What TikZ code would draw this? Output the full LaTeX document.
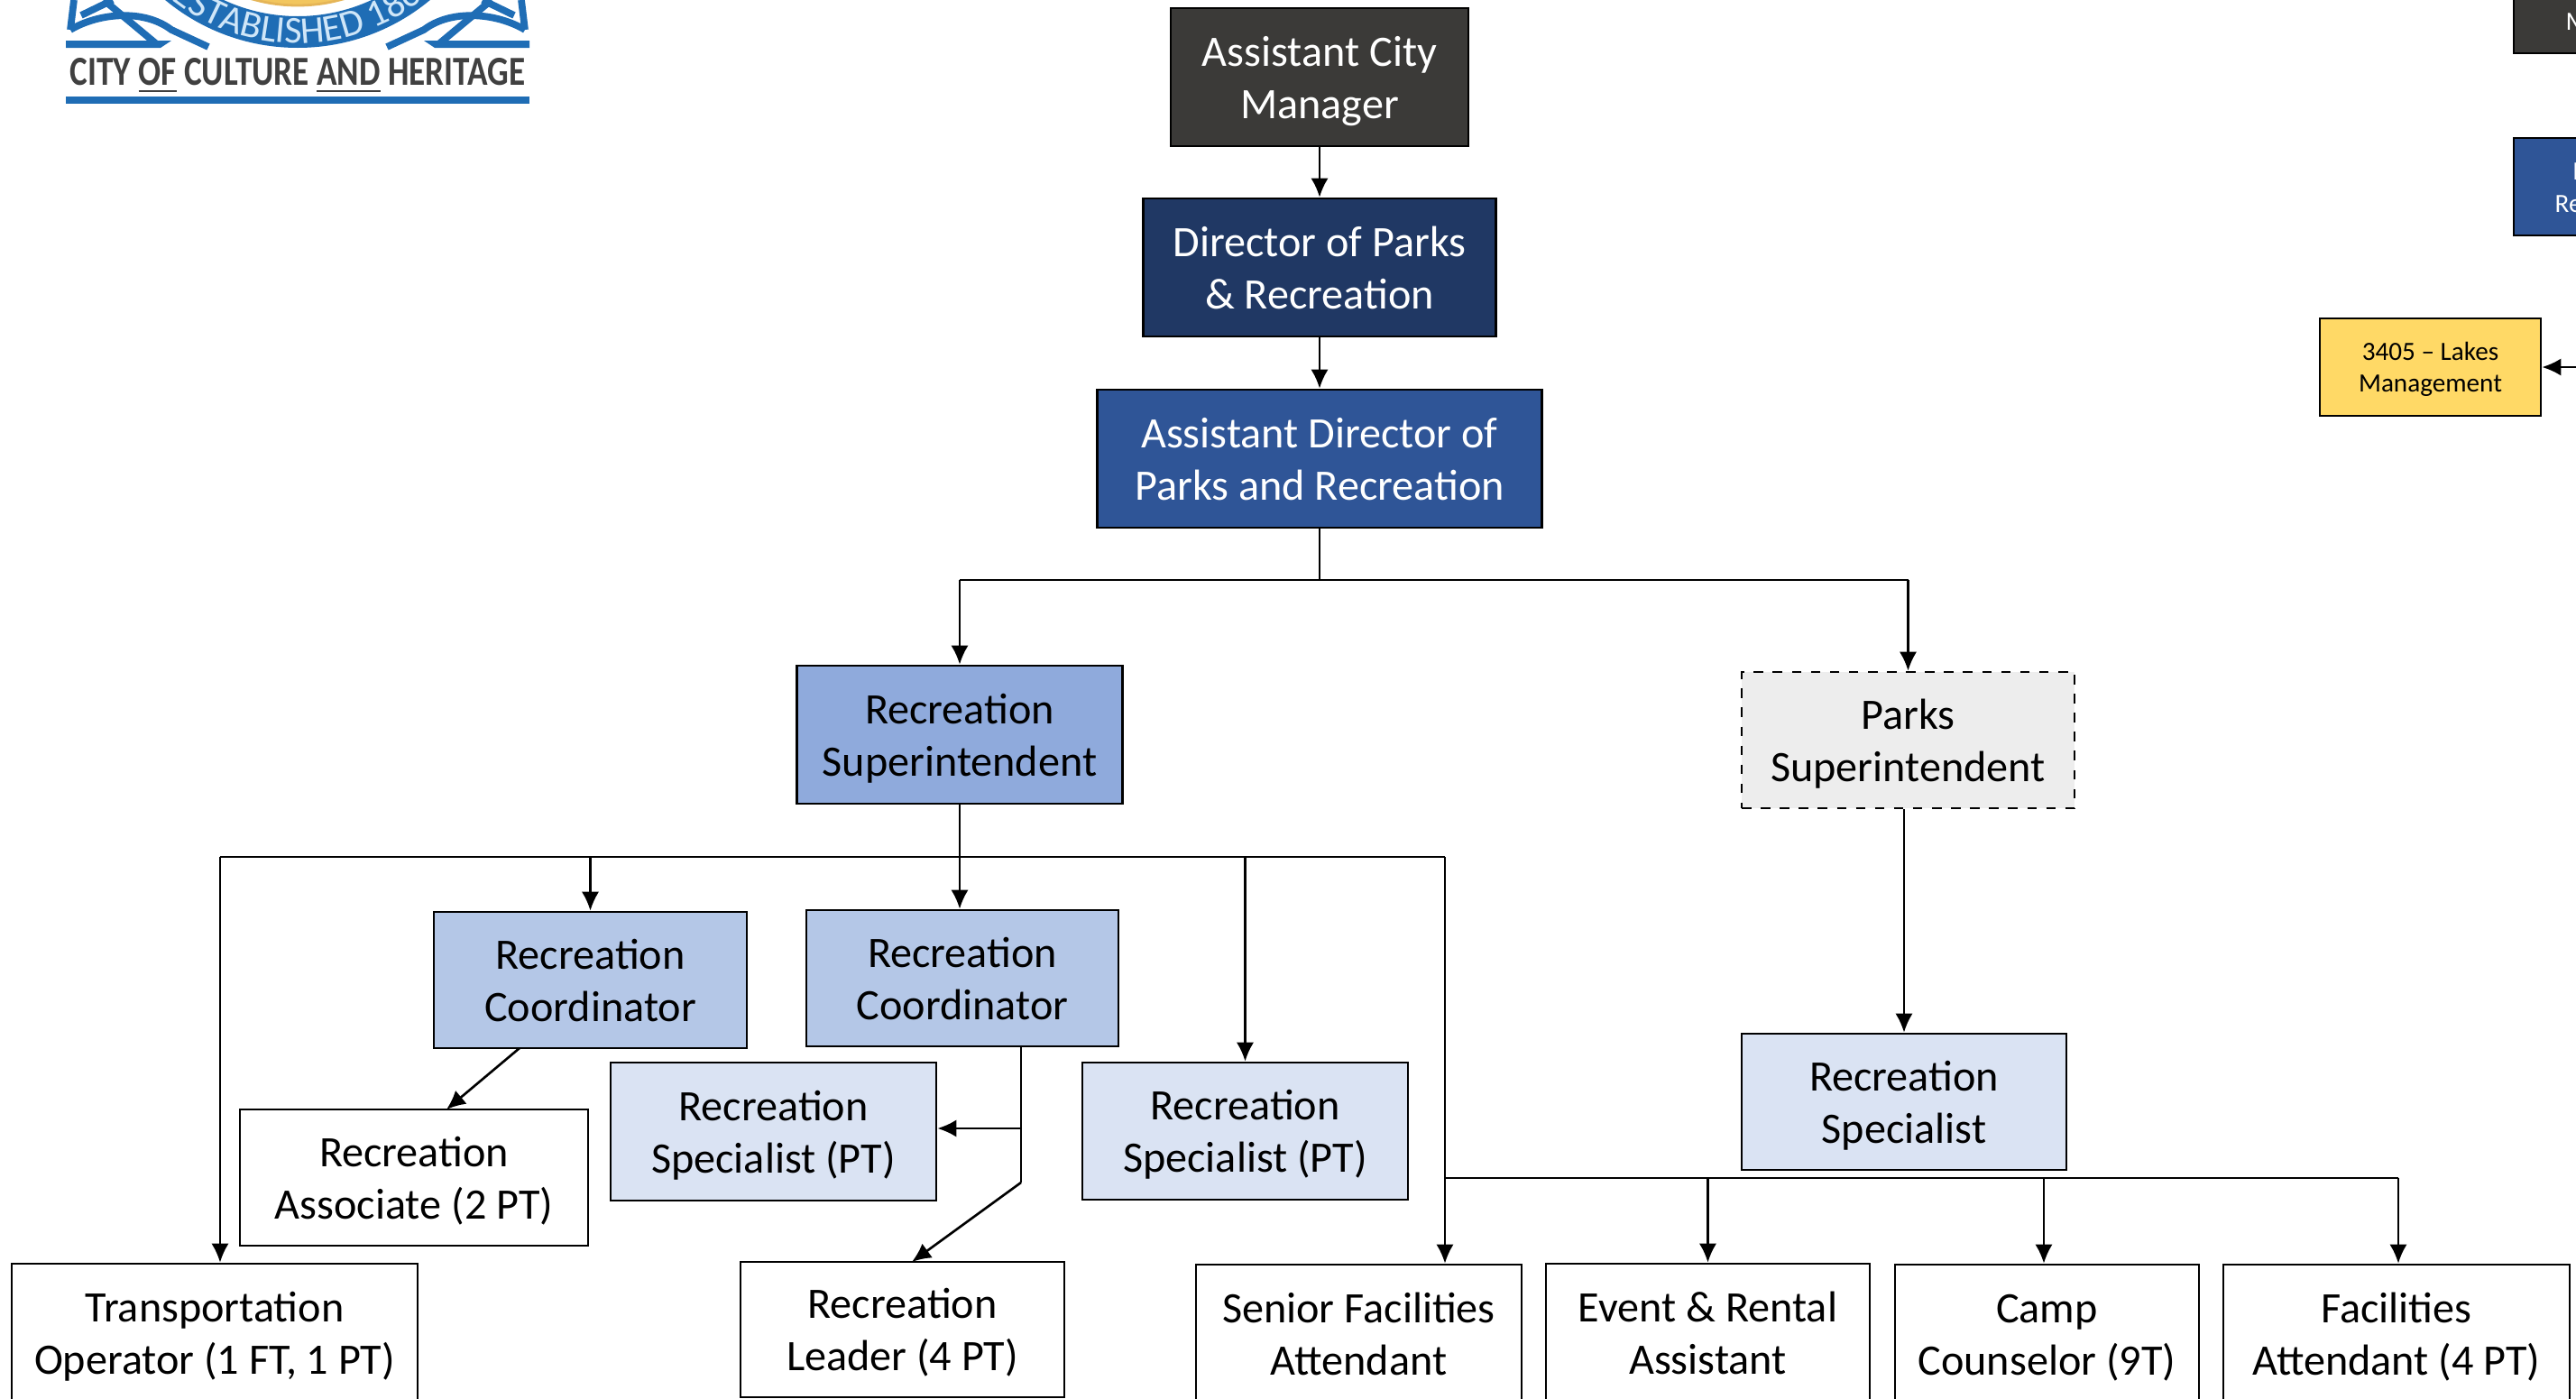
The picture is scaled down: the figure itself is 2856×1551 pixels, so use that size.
\documentclass[tikz,border=0pt]{standalone}
\usepackage{fontspec}
\setmainfont{Carlito}
\usetikzlibrary{arrows.meta,decorations.text}
\definecolor{cdark}{HTML}{3B3A38}
\definecolor{cnavy}{HTML}{203864}
\definecolor{cblue}{HTML}{2F5597}
\definecolor{cmid}{HTML}{8FAADC}
\definecolor{clight}{HTML}{B4C7E7}
\definecolor{cpale}{HTML}{DAE3F3}
\definecolor{cgrey}{HTML}{EDEDED}
\definecolor{cgold}{HTML}{FFD966}
\definecolor{clogo}{HTML}{1F6DB5}
\definecolor{clogotxt}{HTML}{CFE6F8}
\definecolor{cseal}{HTML}{F2C65E}
\def\boxtop{31.1pt}
\tikzset{
orgbox/.style 2 args={draw=black, line width=0.75pt, inner sep=0pt, align=center, minimum width=#1*0.01cm, minimum height=#2*0.01cm, font=\fontsize{13.7}{16.5}\selectfont, execute at begin node=\rule{0pt}{\boxtop}, execute at end node=\strut},
smallbox/.style={font=\fontsize{8.3}{10}\selectfont, /utils/exec=\def\boxtop{18.6pt}},
fragtext/.style={font=\fontsize{8.3}{10}\selectfont, text=white, anchor=west, inner sep=0pt},
bar/.style={draw=black, line width=0.55pt},
arr/.style={draw=black, line width=0.75pt, -{Latex[length=6pt,width=5.5pt]}},
logoline/.style={draw=clogo, line width=2.2pt},
}
\newcommand{\sealfont}{\color{clogotxt}\fontsize{12}{12}\selectfont}
\begin{document}
\begin{tikzpicture}[x=0.01cm,y=-0.01cm]
\useasboundingbox (0,0) rectangle (2856,1551);
\clip (0,0) rectangle (2856,1551);
\fill[clogo] (73,107) rectangle (587,115);
\draw[cgold!60!brown, fill=cseal, line width=0.8pt] (330,-177) circle (183);
\fill[clogo, even odd rule] (330,-177) circle (230) (330,-177) circle (195);
\path[decorate, decoration={text along path, text align=center, text={|\sealfont|ESTABLISHED 186}}] (171,-18) .. controls (259,70) and (401,70) .. (489,-18);
\foreach \side in {1,-1}{
\begin{scope}[shift={(330,0)}, xscale=\side]
\fill[clogo] (-257,45) -- (-140,45) -- (-152,53) -- (-257,53) -- cycle;
\draw[logoline] (-252,33) -- (-248,0);
\draw[logoline] (-252,33) .. controls (-220,14) and (-170,10) .. (-140,33) -- (-99,52);
\draw[logoline] (-215,0) -- (-155,50);
\draw[logoline] (-240,17) -- (-205,0);
\end{scope}
}
\node[text=black!75] (motto0) at (330,84) {\resizebox{5.04cm}{0.3cm}{\bfseries CITY \underline{OF} CULTURE \underline{AND} HERITAGE}};
\node[orgbox={330}{153}, fill=cdark, text=white] (mgr0) at (1463,85.5) {Assistant City\\Manager};
\node[orgbox={391}{153}, fill=cnavy, text=white] (dir0) at (1463,296.5) {Director of Parks\\\& Recreation};
\node[orgbox={493}{153}, fill=cblue, text=white] (adir0) at (1463,508.5) {Assistant Director of\\Parks and Recreation};
\node[orgbox={361}{153}, fill=cmid] (sup0) at (1064,814.5) {Recreation\\Superintendent};
\node[orgbox={369}{151}, fill=cgrey, dashed] (sup1) at (2115.5,820.5) {Parks\\Superintendent};
\node[orgbox={347}{151}, fill=clight] (coord0) at (654.5,1086.5) {Recreation\\Coordinator};
\node[orgbox={346}{151}, fill=clight] (coord1) at (1067,1084.5) {Recreation\\Coordinator};
\node[orgbox={361}{153}, fill=cpale] (spec0) at (857.5,1254.5) {Recreation\\Specialist (PT)};
\node[orgbox={361}{152}, fill=cpale] (spec1) at (1380.5,1254) {Recreation\\Specialist (PT)};
\node[orgbox={360}{151}, fill=cpale] (spec2) at (2111,1221.5) {Recreation\\Specialist};
\node[orgbox={386}{151}] (assoc0) at (459,1305.5) {Recreation\\Associate (2 PT)};
\node[orgbox={359}{150}] (leader0) at (1000.5,1474) {Recreation\\Leader (4 PT)};
\node[orgbox={450}{153}] (drv0) at (238,1477.5) {Transportation\\Operator (1 FT, 1 PT)};
\node[orgbox={361}{153}] (att0) at (1506.5,1478.5) {Senior Facilities\\Attendant};
\node[orgbox={359}{153}] (att1) at (1893.5,1477.5) {Event \& Rental\\Assistant};
\node[orgbox={337}{153}] (att2) at (2269.5,1478.5) {Camp\\Counselor (9T)};
\node[orgbox={384}{153}] (att3) at (2657,1478.5) {Facilities\\Attendant (4 PT)};
\node[orgbox={245}{108}, fill=cgold, smallbox] (lakes0) at (2694.5,407) {3405 -- Lakes\\Management};
\node[orgbox={286}{153}, fill=cdark, smallbox] (mgr1) at (2930,-17.5) {};
\node[orgbox={286}{108}, fill=cblue, smallbox] (dir1) at (2930,207) {};
\node[fragtext] (frag0) at (2844,24) {M};
\node[fragtext] (frag1) at (2852,190) {F};
\node[fragtext] (frag2) at (2832,226) {Re};
\coordinate (bus0) at (1463,643);
\coordinate (bus1a) at (244,950);
\coordinate (bus1b) at (1602,950);
\coordinate (bus2a) at (1602,1306);
\coordinate (bus2b) at (2266,1306);
\coordinate (bus2c) at (2659,1306);
\coordinate (out0) at (576,1162);
\coordinate (in0) at (495,1230);
\coordinate (out1) at (1132,1160);
\coordinate (mid1) at (1132,1251);
\coordinate (end1) at (1132,1311);
\coordinate (in1) at (1011,1399);
\coordinate (lakesin) at (2870,407);
\draw[arr](mgr0) -- (dir0);
\draw[arr](dir0) -- (adir0);
\draw[bar](adir0) -- (bus0);
\draw[bar](sup0.north |- bus0) -- (sup1.north |- bus0);
\draw[arr](sup0.north |- bus0) -- (sup0);
\draw[arr](sup1.north |- bus0) -- (sup1);
\draw[bar](sup0) -- (sup0.south |- bus1a);
\draw[bar](bus1a) -- (bus1b);
\draw[arr](bus1a) -- (bus1a |- drv0.north);
\draw[arr](coord0.north |- bus1a) -- (coord0);
\draw[arr](sup0.south |- bus1a) -- (sup0.south |- coord1.north);
\draw[arr](spec1.north |- bus1a) -- (spec1);
\draw[arr](bus1b) -- (bus1b |- att0.north);
\draw[arr](spec2.north |- sup1.south) -- (spec2);
\draw[bar](bus2a) -- (bus2c);
\draw[arr](att1.north |- bus2a) -- (att1);
\draw[arr](bus2b) -- (bus2b |- att2.north);
\draw[arr](bus2c) -- (bus2c |- att3.north);
\draw[arr](out0) -- (in0);
\draw[bar](out1) -- (end1);
\draw[arr](mid1) -- (mid1 -| spec0.east);
\draw[arr](end1) -- (in1);
\draw[arr](lakesin) -- (lakes0);
\end{tikzpicture}
\end{document}
